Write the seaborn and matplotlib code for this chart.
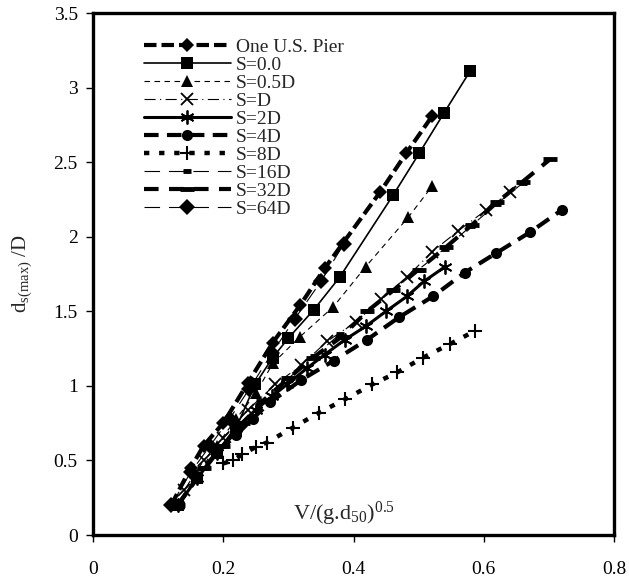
import matplotlib
matplotlib.use("Agg")
import matplotlib.pyplot as plt
import seaborn as sns
import pandas as pd

# ---- data ----
pier_x = [0.12, 0.15, 0.17, 0.20, 0.238, 0.276, 0.318, 0.356, 0.441, 0.481, 0.521]
pier_y = [0.20, 0.45, 0.60, 0.75, 1.02, 1.29, 1.54, 1.79, 2.30, 2.56, 2.81]

s0_x = [0.13, 0.16, 0.19, 0.22, 0.249, 0.276, 0.30, 0.339, 0.379, 0.461, 0.501, 0.539, 0.579]
s0_y = [0.20, 0.38, 0.55, 0.72, 1.01, 1.19, 1.32, 1.51, 1.73, 2.28, 2.56, 2.83, 3.11]

s05_x = [0.13, 0.16, 0.19, 0.22, 0.25, 0.276, 0.318, 0.369, 0.419, 0.484, 0.521]
s05_y = [0.20, 0.40, 0.60, 0.78, 0.95, 1.15, 1.33, 1.53, 1.80, 2.13, 2.34]

sD_x = [0.14, 0.17, 0.20, 0.238, 0.28, 0.32, 0.36, 0.404, 0.442, 0.482, 0.521, 0.561, 0.604, 0.641]
sD_y = [0.30, 0.50, 0.65, 0.84, 1.01, 1.14, 1.30, 1.43, 1.58, 1.73, 1.90, 2.04, 2.18, 2.30]

s2D_x = [0.13, 0.16, 0.19, 0.22, 0.25, 0.275, 0.298, 0.329, 0.356, 0.387, 0.419, 0.45, 0.482, 0.508, 0.541]
s2D_y = [0.20, 0.38, 0.55, 0.72, 0.84, 0.93, 1.01, 1.12, 1.21, 1.31, 1.40, 1.50, 1.60, 1.70, 1.80]

s4D_x = [0.13, 0.16, 0.19, 0.22, 0.245, 0.272, 0.32, 0.37, 0.421, 0.47, 0.522, 0.571, 0.619, 0.671, 0.72]
s4D_y = [0.20, 0.38, 0.55, 0.67, 0.78, 0.89, 1.04, 1.17, 1.31, 1.46, 1.60, 1.76, 1.89, 2.03, 2.18]

s8D_x = [0.20, 0.215, 0.229, 0.25, 0.267, 0.307, 0.347, 0.387, 0.429, 0.467, 0.507, 0.548, 0.587]
s8D_y = [0.48, 0.50, 0.54, 0.59, 0.62, 0.72, 0.82, 0.91, 1.01, 1.09, 1.19, 1.28, 1.37]

s16D_x = [0.13, 0.17, 0.20, 0.23, 0.265, 0.30, 0.34, 0.38, 0.42, 0.46, 0.50, 0.54, 0.58, 0.62, 0.66]
s16D_y = [0.20, 0.45, 0.60, 0.75, 0.90, 1.05, 1.20, 1.35, 1.50, 1.64, 1.78, 1.92, 2.07, 2.22, 2.36]

s32D_x = [0.13, 0.17, 0.20, 0.23, 0.261, 0.30, 0.338, 0.382, 0.421, 0.461, 0.50, 0.542, 0.582, 0.62, 0.66, 0.702]
s32D_y = [0.20, 0.45, 0.60, 0.75, 0.90, 1.05, 1.19, 1.33, 1.50, 1.64, 1.78, 1.93, 2.08, 2.23, 2.37, 2.52]

s64D_x = [0.12, 0.15, 0.18, 0.21, 0.24, 0.275, 0.31, 0.35, 0.385]
s64D_y = [0.20, 0.42, 0.60, 0.78, 0.98, 1.22, 1.45, 1.70, 1.95]

labels = ["One U.S. Pier", "S=0.0", "S=0.5D", "S=D", "S=2D", "S=4D",
          "S=8D", "S=16D", "S=32D", "S=64D"]
xs = [pier_x, s0_x, s05_x, sD_x, s2D_x, s4D_x, s8D_x, s16D_x, s32D_x, s64D_x]
ys = [pier_y, s0_y, s05_y, sD_y, s2D_y, s4D_y, s8D_y, s16D_y, s32D_y, s64D_y]

x_ticks = [0, 0.2, 0.4, 0.6, 0.8]
x_ticklabels = ["0", "0.2", "0.4", "0.6", "0.8"]
y_ticks = [0, 0.5, 1, 1.5, 2, 2.5, 3, 3.5]
y_ticklabels = ["0", "0.5", "1", "1.5", "2", "2.5", "3", "3.5"]

# ---- styles ----
styles = [
    dict(linestyle=(0, (3.0, 1.2)), linewidth=3.0, marker="D", markersize=7, mew=0),
    dict(linestyle="-", linewidth=1.2, marker="s", markersize=8, mew=0),
    dict(linestyle=(0, (5, 4)), linewidth=0.8, marker="^", markersize=9, mew=0),
    dict(linestyle=(0, (10, 4, 1, 4)), linewidth=0.8, marker="x", markersize=9, mew=1.3),
    dict(linestyle="-", linewidth=2.2, marker=(6, 2, 0), markersize=10, mew=1.3),
    dict(linestyle=(0, (3.5, 2.0)), linewidth=3.0, marker="o", markersize=8, mew=0),
    dict(linestyle=(0, (1.2, 2.2)), linewidth=3.2, marker="+", markersize=10, mew=1.5),
    dict(linestyle=(0, (14, 8)), linewidth=0.8, marker="_", markersize=6, mew=3.5),
    dict(linestyle=(0, (3.5, 2.5)), linewidth=3.0, marker="_", markersize=10, mew=3.5),
    dict(linestyle=(0, (14, 8)), linewidth=0.8, marker="D", markersize=8, mew=0),
]

sns.set_style("white")
plt.rcParams["font.family"] = ["Liberation Serif", "DejaVu Serif"]
plt.rcParams["mathtext.fontset"] = "custom"
plt.rcParams["mathtext.rm"] = "Liberation Serif"
plt.rcParams["mathtext.it"] = "Liberation Serif:italic"

fig = plt.figure(figsize=(6.29, 5.81), dpi=100)
ax = fig.add_axes([93 / 629, 1 - 535 / 581, 521 / 629, 522 / 581])

for lab, x, y, st in zip(labels, xs, ys, styles):
    df = pd.DataFrame({"x": x, "y": y})
    sns.lineplot(data=df, x="x", y="y", ax=ax, color="black", sort=False,
                 estimator=None, errorbar=None, label=lab,
                 linestyle=st["linestyle"], linewidth=st["linewidth"],
                 marker=st["marker"], markersize=st["markersize"],
                 markeredgewidth=st["mew"], markeredgecolor="black",
                 markerfacecolor="black")

ax.set_xlim(0, 0.8)
ax.set_ylim(0, 3.5)
ax.set_xticks(x_ticks)
ax.set_xticklabels(x_ticklabels)
ax.set_yticks(y_ticks)
ax.set_yticklabels(y_ticklabels)
ax.tick_params(direction="out", length=5, width=1, labelsize=14, colors="black",
               bottom=True, left=True, pad=6)
ax.tick_params(axis="x", pad=14)
for sp in ax.spines.values():
    sp.set_linewidth(2.4)
    sp.set_color("black")

ax.set_xlabel("")
ax.set_ylabel(r"d$_{\mathrm{s(max)}}$ /D", fontsize=15, labelpad=14)
ax.text(0.307, 0.105, r"V/(g.d$_{\mathrm{50}}$)$^{\mathrm{0.5}}$", fontsize=16,
        transform=ax.transData, ha="left", va="baseline")

leg = ax.legend(loc="upper left", bbox_to_anchor=(0.097, 0.952), frameon=False,
                fontsize=14, handlelength=4.5, handletextpad=0.25,
                labelspacing=0.02, borderpad=0, numpoints=1, borderaxespad=0)

fig.savefig("out.png", dpi=100)
